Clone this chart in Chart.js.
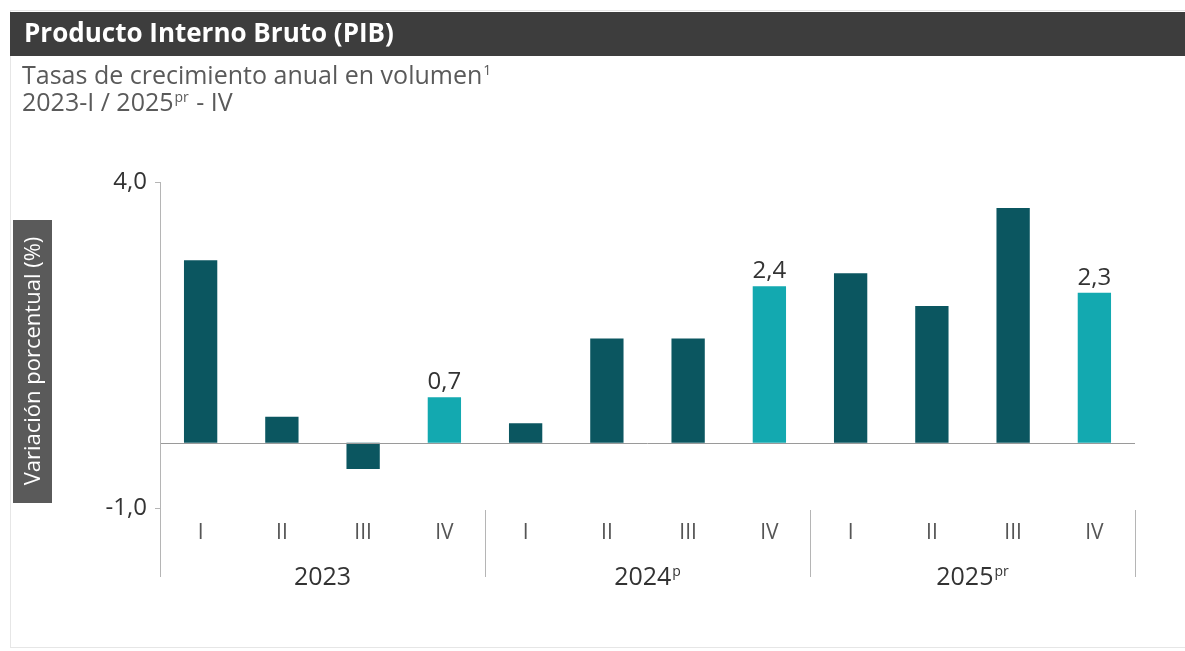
<!DOCTYPE html>
<html>
<head>
    <title>Producto Interno Bruto (PIB)</title>
    <script src="https://cdnjs.cloudflare.com/ajax/libs/Chart.js/4.4.1/chart.umd.min.js"></script>
    <style>
        body { margin: 0; background: #fff; }
        #wrap { width: 1185px; height: 651px; }
    </style>
</head>
<body>
    <div id="wrap">
        <canvas id="myChart" width="1185" height="651"></canvas>
    </div>

    <script>
        // Quarterly data
        const quarters = ['I', 'II', 'III', 'IV', 'I', 'II', 'III', 'IV', 'I', 'II', 'III', 'IV'];
        const years = [['2023', ''], ['2024', 'p'], ['2025', 'pr']];
        const growth = [2.8, 0.4, -0.4, 0.7, 0.3, 1.6, 1.6, 2.4, 2.6, 2.1, 3.6, 2.3];
        const labelled = [false, false, false, true, false, false, false, true, false, false, false, true];
        const yTicks = [-1, 4];

        const darkTeal = '#0b5660';
        const lightTeal = '#13a9b0';
        const font = '"Open Sans", "Noto Sans", sans-serif';

        // text with a small raised suffix
        function supText(ctx, base, sup, x, y, size, align) {
            ctx.font = size + 'px ' + font;
            const w1 = ctx.measureText(base).width;
            ctx.font = Math.round(size * 0.55) + 'px ' + font;
            const w2 = sup ? ctx.measureText(sup).width + 1 : 0;
            let start = x;
            if (align === 'center') start = x - (w1 + w2) / 2;
            ctx.textAlign = 'left';
            ctx.textBaseline = 'middle';
            ctx.font = size + 'px ' + font;
            ctx.fillText(base, start, y);
            if (sup) {
                ctx.font = Math.round(size * 0.55) + 'px ' + font;
                ctx.fillText(sup, start + w1 + 1, y - size * 0.25);
            }
            return start + w1 + w2;
        }

        const decorations = {
            id: 'decorations',
            beforeDraw(chart) {
                const ctx = chart.ctx;
                ctx.save();
                // card border
                ctx.strokeStyle = '#e6e6e6';
                ctx.lineWidth = 1;
                ctx.strokeRect(10.5, 10.5, 1185, 637);
                // title bar
                ctx.fillStyle = '#3d3d3d';
                ctx.fillRect(10, 12, 1175, 44);
                ctx.fillStyle = '#ffffff';
                ctx.font = 'bold 26px ' + font;
                ctx.textAlign = 'left';
                ctx.textBaseline = 'middle';
                ctx.fillText('Producto Interno Bruto (PIB)', 24, 35);
                // subtitle
                ctx.fillStyle = '#5a5a5a';
                supText(ctx, 'Tasas de crecimiento anual en volumen', '1', 22, 77, 25, 'left');
                const end = supText(ctx, '2023-I / 2025', 'pr', 22, 104, 25, 'left');
                ctx.font = '25px ' + font;
                ctx.textAlign = 'left';
                ctx.fillText(' - IV', end + 1, 104);
                // y axis title box
                ctx.fillStyle = '#5a5a5a';
                ctx.fillRect(13, 220, 39, 283);
                ctx.translate(33, 361);
                ctx.rotate(-Math.PI / 2);
                ctx.fillStyle = '#ffffff';
                ctx.font = '22px ' + font;
                ctx.textAlign = 'center';
                ctx.fillText('Variación porcentual (%)', 0, 1);
                ctx.restore();
            },
            afterDatasetsDraw(chart) {
                const ctx = chart.ctx;
                const x = chart.scales.x;
                const y = chart.scales.y;
                const area = chart.chartArea;
                const step = x.getPixelForValue(1) - x.getPixelForValue(0);
                ctx.save();
                // zero line
                ctx.strokeStyle = '#9a9a9a';
                ctx.lineWidth = 1;
                const y0 = Math.round(y.getPixelForValue(0)) + 0.5;
                ctx.beginPath();
                ctx.moveTo(area.left, y0);
                ctx.lineTo(area.right, y0);
                ctx.stroke();
                // y axis line extended down
                ctx.strokeStyle = '#b5b5b5';
                ctx.beginPath();
                ctx.moveTo(area.left + 0.5, area.top);
                ctx.lineTo(area.left + 0.5, area.bottom + 69);
                ctx.stroke();
                // group separators and year labels
                years.forEach((yr, g) => {
                    const left = x.getPixelForValue(g * 4) - step / 2;
                    const right = x.getPixelForValue(g * 4 + 3) + step / 2;
                    ctx.strokeStyle = '#b5b5b5';
                    ctx.beginPath();
                    ctx.moveTo(Math.round(right) + 0.5, area.bottom + 2);
                    ctx.lineTo(Math.round(right) + 0.5, area.bottom + 69);
                    ctx.stroke();
                    ctx.fillStyle = '#333333';
                    supText(ctx, yr[0], yr[1], (left + right) / 2, area.bottom + 70, 25, 'center');
                });
                // value labels
                const meta = chart.getDatasetMeta(0);
                ctx.fillStyle = '#333333';
                ctx.font = '24px ' + font;
                ctx.textAlign = 'center';
                ctx.textBaseline = 'bottom';
                meta.data.forEach((bar, i) => {
                    if (!labelled[i]) return;
                    const txt = growth[i].toFixed(1).replace('.', ',');
                    ctx.fillText(txt, bar.x, bar.y - 3);
                });
                ctx.restore();
            }
        };

        const ctx = document.getElementById('myChart').getContext('2d');
        new Chart(ctx, {
            type: 'bar',
            data: {
                labels: quarters,
                datasets: [{
                    data: growth,
                    backgroundColor: labelled.map(l => l ? lightTeal : darkTeal),
                    barPercentage: 0.41,
                    categoryPercentage: 1.0
                }]
            },
            options: {
                responsive: false,
                animation: false,
                layout: {
                    padding: { left: 0, right: 50, top: 182, bottom: 0 }
                },
                plugins: {
                    legend: { display: false },
                    tooltip: { enabled: false }
                },
                scales: {
                    x: {
                        grid: { display: false },
                        border: { display: false },
                        ticks: {
                            color: '#555555',
                            font: { family: font, size: 21 },
                            padding: 4
                        },
                        afterFit(scale) { scale.height = 143; }
                    },
                    y: {
                        min: -1,
                        max: 4,
                        afterBuildTicks(scale) {
                            scale.ticks = yTicks.map(v => ({ value: v }));
                        },
                        afterFit(scale) { scale.width = 160; },
                        grid: {
                            drawOnChartArea: false,
                            drawTicks: true,
                            tickLength: 5,
                            color: '#b5b5b5'
                        },
                        border: { display: true, color: '#b5b5b5' },
                        ticks: {
                            color: '#333333',
                            font: { family: font, size: 24 },
                            padding: 8,
                            callback: v => v.toFixed(1).replace('.', ',')
                        }
                    }
                }
            },
            plugins: [decorations]
        });
    </script>
</body>
</html>
